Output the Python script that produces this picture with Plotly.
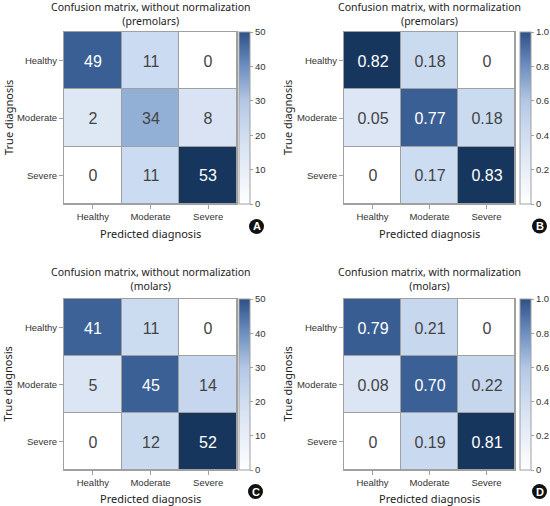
import plotly.graph_objects as go

# ---- data ----
pred_labels = ["Healthy", "Moderate", "Severe"]
true_labels = ["Healthy", "Moderate", "Severe"]

premolars_counts = [[49, 11, 0], [2, 34, 8], [0, 11, 53]]
premolars_norm = [[0.82, 0.18, 0.0], [0.05, 0.77, 0.18], [0.0, 0.17, 0.83]]
molars_counts = [[41, 11, 0], [5, 45, 14], [0, 12, 52]]
molars_norm = [[0.79, 0.21, 0.0], [0.08, 0.70, 0.22], [0.0, 0.19, 0.81]]

count_ticks = [0, 10, 20, 30, 40, 50]
count_ticktext = ["0", "10", "20", "30", "40", "50"]
norm_ticks = [0, 0.2, 0.4, 0.6, 0.8, 1.0]
norm_ticktext = ["0", "0.2", "0.4", "0.6", "0.8", "1.0"]

titles = [
    "Confusion matrix, without normalization<br>(premolars)",
    "Confusion matrix, with normalization<br>(premolars)",
    "Confusion matrix, without normalization<br>(molars)",
    "Confusion matrix, with normalization<br>(molars)",
]
panel_letters = ["A", "B", "C", "D"]

# ---- styling ----
W, H = 550, 506
cell_scale = [
    [0.0, "#ffffff"], [0.03, "#dee7f4"], [0.16, "#d9e3f3"], [0.2, "#ccdcf1"],
    [0.3, "#c3d4ec"], [0.64, "#93b1d6"], [0.75, "#3d6399"], [0.975, "#385e94"],
    [0.985, "#17365e"], [1.0, "#17365e"],
]
bar_scale = [
    [0.0, "#ffffff"], [0.2, "#e8eef8"], [0.4, "#d0ddf0"], [0.6, "#b3c7e5"],
    [0.8, "#6e8fc0"], [1.0, "#2e5088"],
]

def fmt_count(v):
    return str(v)

def fmt_norm(v):
    return "0" if v == 0 else f"{v:.2f}"

panels = [
    dict(z=premolars_counts, fmt=fmt_count, cb=(0, 50, count_ticks, count_ticktext),
         x=(64, 237), y=(32, 204), cbx=239, title_y=30, xt_y=233, yt_x=8, circ=(256.5, 226.5)),
    dict(z=premolars_norm, fmt=fmt_norm, cb=(0, 1, norm_ticks, norm_ticktext),
         x=(344, 515), y=(32, 204), cbx=520, title_y=30, xt_y=233, yt_x=287, circ=(539.5, 226)),
    dict(z=molars_counts, fmt=fmt_count, cb=(0, 50, count_ticks, count_ticktext),
         x=(64, 237), y=(299, 470), cbx=239, title_y=295, xt_y=498, yt_x=7, circ=(255.5, 491.5)),
    dict(z=molars_norm, fmt=fmt_norm, cb=(0, 1, norm_ticks, norm_ticktext),
         x=(344, 515), y=(299, 470), cbx=520, title_y=295, xt_y=498, yt_x=287, circ=(539.5, 491.5)),
]

fig = go.Figure()
annotations = []
shapes = []
layout_axes = {}

for i, p in enumerate(panels):
    n = "" if i == 0 else str(i + 1)
    xa, ya = "x" + n, "y" + n
    zmax = max(max(r) for r in p["z"])
    text = [[p["fmt"](v) for v in row] for row in p["z"]]
    fig.add_trace(go.Heatmap(
        z=p["z"], x=pred_labels, y=true_labels, text=text, texttemplate="%{text}",
        textfont=dict(family="Liberation Sans, Arial", size=16),
        colorscale=cell_scale, zmin=0, zmax=zmax, showscale=False,
        xgap=1, ygap=1, xaxis=xa, yaxis=ya, hoverinfo="skip",
    ))
    cmin, cmax, tv, tt = p["cb"]
    fig.add_trace(go.Scatter(
        x=[None], y=[None], mode="markers", xaxis=xa, yaxis=ya, showlegend=False,
        hoverinfo="skip",
        marker=dict(color=[cmin], cmin=cmin, cmax=cmax, colorscale=bar_scale, showscale=True,
                    colorbar=dict(
                        x=p["cbx"] / W, xanchor="left", xpad=0, ypad=0,
                        y=1 - (p["y"][0] + p["y"][1]) / 2 / H, yanchor="middle",
                        len=(p["y"][1] - p["y"][0]) / H, lenmode="fraction",
                        thickness=11, outlinecolor="#a0a0a0", outlinewidth=1,
                        ticks="outside", ticklen=3, tickcolor="#a0a0a0",
                        tickvals=tv, ticktext=tt,
                        tickfont=dict(family="Liberation Sans, Arial", size=9.5, color="#333"),
                    )),
    ))
    common = dict(showline=True, mirror=True, linecolor="#a0a0a0", linewidth=1,
                  ticks="outside", ticklen=4, tickcolor="#a0a0a0", showgrid=False,
                  zeroline=False, fixedrange=True,
                  tickfont=dict(family="Liberation Sans, Arial", size=9.5, color="#333"))
    layout_axes["xaxis" + n] = dict(domain=[p["x"][0] / W, p["x"][1] / W], anchor=ya,
                                    categoryorder="array", categoryarray=pred_labels, **common)
    layout_axes["yaxis" + n] = dict(domain=[1 - p["y"][1] / H, 1 - p["y"][0] / H], anchor=xa,
                                    autorange="reversed", categoryorder="array",
                                    categoryarray=true_labels, **common)
    cx = (p["x"][0] + p["x"][1]) / 2 / W
    cy = (p["y"][0] + p["y"][1]) / 2 / H
    annotations.append(dict(text=titles[i], x=cx, y=1 - p["title_y"] / H, xref="paper", yref="paper",
                            xanchor="center", yanchor="bottom", showarrow=False,
                            font=dict(family="Noto Sans", size=10.5, color="#222")))
    annotations.append(dict(text="Predicted diagnosis", x=cx, y=1 - p["xt_y"] / H, xref="paper",
                            yref="paper", xanchor="center", yanchor="middle", showarrow=False,
                            font=dict(family="Noto Sans", size=11, color="#222")))
    annotations.append(dict(text="True diagnosis", x=p["yt_x"] / W, y=1 - cy, xref="paper",
                            yref="paper", xanchor="center", yanchor="middle", textangle=-90,
                            showarrow=False, font=dict(family="Noto Sans", size=11, color="#222")))
    ccx, ccy = p["circ"]
    r = 7.5
    shapes.append(dict(type="circle", xref="paper", yref="paper",
                       x0=(ccx - r) / W, x1=(ccx + r) / W, y0=1 - (ccy + r) / H, y1=1 - (ccy - r) / H,
                       fillcolor="#111", line=dict(width=0)))
    annotations.append(dict(text="<b>" + panel_letters[i] + "</b>", x=ccx / W, y=1 - ccy / H,
                            xref="paper", yref="paper", xanchor="center", yanchor="middle",
                            showarrow=False, font=dict(family="Liberation Sans, Arial", size=11, color="white")))

fig.update_layout(
    width=W, height=H, margin=dict(l=0, r=0, t=0, b=0),
    paper_bgcolor="white", plot_bgcolor="#a0a0a0",
    annotations=annotations, shapes=shapes, showlegend=False,
    **layout_axes,
)
fig.write_html("out.html", config={"displayModeBar": False},
               post_script="document.body.style.margin='0';document.body.style.overflow='hidden';")
